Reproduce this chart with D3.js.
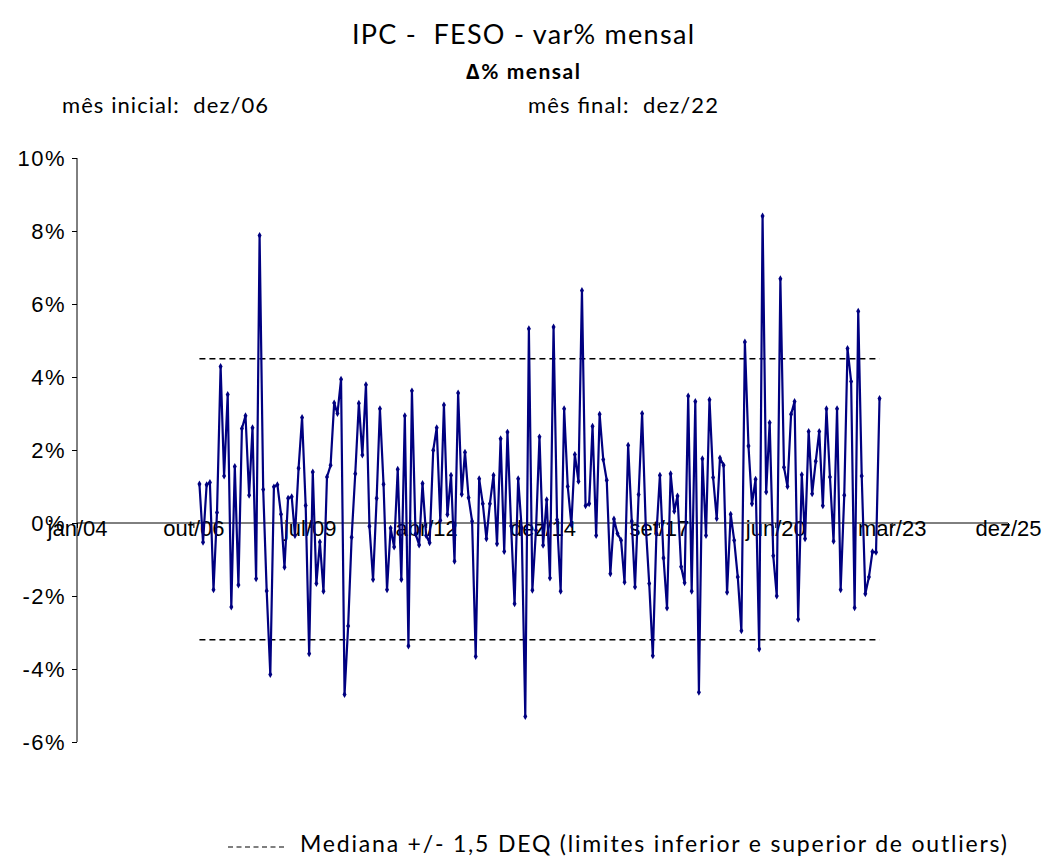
<!DOCTYPE html>
<html><head><meta charset="utf-8">
<script src="https://cdn.jsdelivr.net/npm/d3@7"></script>
<style>
html,body{margin:0;padding:0;background:#fff;}
svg{display:block;}
.cal{font-family:Lato,"Open Sans",sans-serif;}
</style></head>
<body>
<svg id="c" width="1047" height="857"></svg>
<script>
const title = "IPC -  FESO - var% mensal";
const subtitle = "∆% mensal";
const startLabel = "mês inicial:  dez/06";
const endLabel = "mês final:  dez/22";
const legendLabel = "Mediana +/- 1,5 DEQ (limites inferior e superior de outliers)";
const firstMonth = [2006, 12];
const values = [
 1.07,-0.53,1.05,1.11,-1.83,0.29,4.29,1.29,3.52,-2.3,1.55,-1.70,2.59,2.94,0.76,2.61,
 -1.53,7.88,0.92,-1.86,-4.15,0.99,1.05,0.24,-1.21,0.68,0.72,-0.34,1.50,2.89,0.48,-3.58,
 1.40,-1.66,-0.52,-1.87,1.26,1.58,3.29,3.0,3.94,-4.7,-2.82,-0.39,1.35,3.28,1.86,3.79,
 -0.09,-1.55,0.68,3.13,1.06,-1.83,-0.14,-0.66,1.47,-1.55,2.94,-3.37,3.62,-0.3,-0.6,1.08,
 -0.34,-0.54,1.99,2.61,0.07,3.23,0.23,1.31,-1.05,3.56,0.79,1.94,0.69,0.05,-3.66,1.21,
 0.53,-0.43,0.53,1.31,-0.57,2.31,-0.78,2.49,-0.08,-2.21,1.21,-0.14,-5.30,5.32,-1.84,-0.2,
 2.36,-0.61,0.64,-1.51,5.37,0.09,-1.87,3.13,1.0,-0.05,1.88,1.14,6.37,0.47,0.53,2.65,
 -0.34,2.98,1.74,1.17,-1.39,0.11,-0.29,-0.47,-1.62,2.13,0.05,-1.75,0.78,3.0,-0.05,-1.66,
 -3.64,-0.29,1.31,-0.96,-2.33,1.35,0.32,0.74,-1.2,-1.64,3.48,-1.87,3.33,-4.64,1.76,-0.34,
 3.38,1.25,0.12,1.78,1.58,-1.9,0.24,-0.47,-1.48,-2.95,4.96,2.11,0.53,1.2,-3.45,8.41,
 0.85,2.75,-0.9,-2.0,6.69,1.53,1.0,2.98,3.33,-2.64,1.32,-0.43,2.51,0.8,1.69,2.51,
 0.47,3.13,1.26,-0.5,3.13,-1.83,0.76,4.78,3.88,-2.32,5.80,1.29,-1.94,-1.48,-0.79,-0.8,
 3.41
];
const upperLimit = 4.5;
const lowerLimit = -3.2;
// Excel serial dates for the axis (min, max, a tick every 1000 days)
const axisSerials = [38000,39000,40000,41000,42000,43000,44000,45000,46000];
const xTickLabels = ["jan/04","out/06","jul/09","abr/12","dez/14","set/17","jun/20","mar/23","dez/25"];
const yTicks = [-6,-4,-2,0,2,4,6,8,10];

const serialToDate = s => new Date(Date.UTC(1899,11,30) + s*86400000);
const months = values.map((v,i)=>{
  const m0 = firstMonth[1]-1 + i;
  return {date:new Date(Date.UTC(firstMonth[0] + Math.floor(m0/12), m0%12, 1)), v};
});

const svg = d3.select("#c");
const L=77, R=1008, T=158, B=742;
const x = d3.scaleUtc().domain([serialToDate(axisSerials[0]), serialToDate(axisSerials[axisSerials.length-1])]).range([L,R]);
const y = d3.scaleLinear().domain([-6,10]).range([B,T]);

function addText(str, xx, yy, size, len, bold){
  const t = svg.append("text").attr("class","cal").attr("x",xx).attr("y",yy)
    .style("white-space","pre").attr("font-size",size).attr("fill","#000")
    .attr("textLength",len).attr("lengthAdjust","spacing").text(str);
  if(bold) t.attr("font-weight","bold");
  return t;
}
addText(title, 352, 44, 27, 342);
addText(subtitle, 466, 79, 21, 114, true);
addText(startLabel, 62, 113, 22, 206);
addText(endLabel, 528, 113, 22, 190);

const tickFont = "Liberation Sans, Arial, sans-serif";
// y axis
const yAxis = svg.append("g").attr("transform",`translate(${L},0)`)
  .call(d3.axisLeft(y).tickValues(yTicks).tickSize(5).tickPadding(6).tickFormat(d=>d+"%"));
yAxis.selectAll("text").attr("font-size",22).attr("fill","#000").attr("font-family",tickFont)
  .attr("letter-spacing",1.5);
yAxis.selectAll("line,path").attr("stroke","#000");
yAxis.select(".domain").attr("d",`M0,${T}V${B}`);

// x axis at zero
const xAxis = svg.append("g").attr("transform",`translate(0,${y(0)})`)
  .call(d3.axisBottom(x).tickValues(axisSerials.map(serialToDate)).tickSize(5)
    .tickFormat((d,i)=>xTickLabels[i]));
xAxis.selectAll("text").attr("font-size",22).attr("fill","#000").attr("font-family",tickFont)
  .attr("y",-3);
xAxis.selectAll("line,path").attr("stroke","#000");
xAxis.select(".domain").attr("d",`M${L},0H${R}`);

// outlier limit lines
const x0 = x(months[0].date), x1 = x(months[months.length-1].date);
[upperLimit, lowerLimit].forEach(v=>{
  svg.append("line").attr("x1",x0).attr("x2",x1).attr("y1",y(v)).attr("y2",y(v))
    .attr("stroke","#000").attr("stroke-width",1.6).attr("stroke-dasharray","6,4");
});

// series
const line = d3.line().x(d=>x(d.date)).y(d=>y(d.v));
svg.append("path").datum(months).attr("d",line).attr("fill","none")
  .attr("stroke","#000080").attr("stroke-width",2.2).attr("stroke-linejoin","round");
svg.append("g").selectAll("path").data(months).join("path")
  .attr("transform",d=>`translate(${x(d.date)},${y(d.v)})`)
  .attr("d",d3.symbol(d3.symbolDiamond,14)).attr("fill","#000080");

// legend
svg.append("line").attr("x1",228).attr("x2",284).attr("y1",847).attr("y2",847)
  .attr("stroke","#000").attr("stroke-width",1.2).attr("stroke-dasharray","5,3.5");
addText(legendLabel, 300, 852, 23, 707);
</script>
</body></html>
